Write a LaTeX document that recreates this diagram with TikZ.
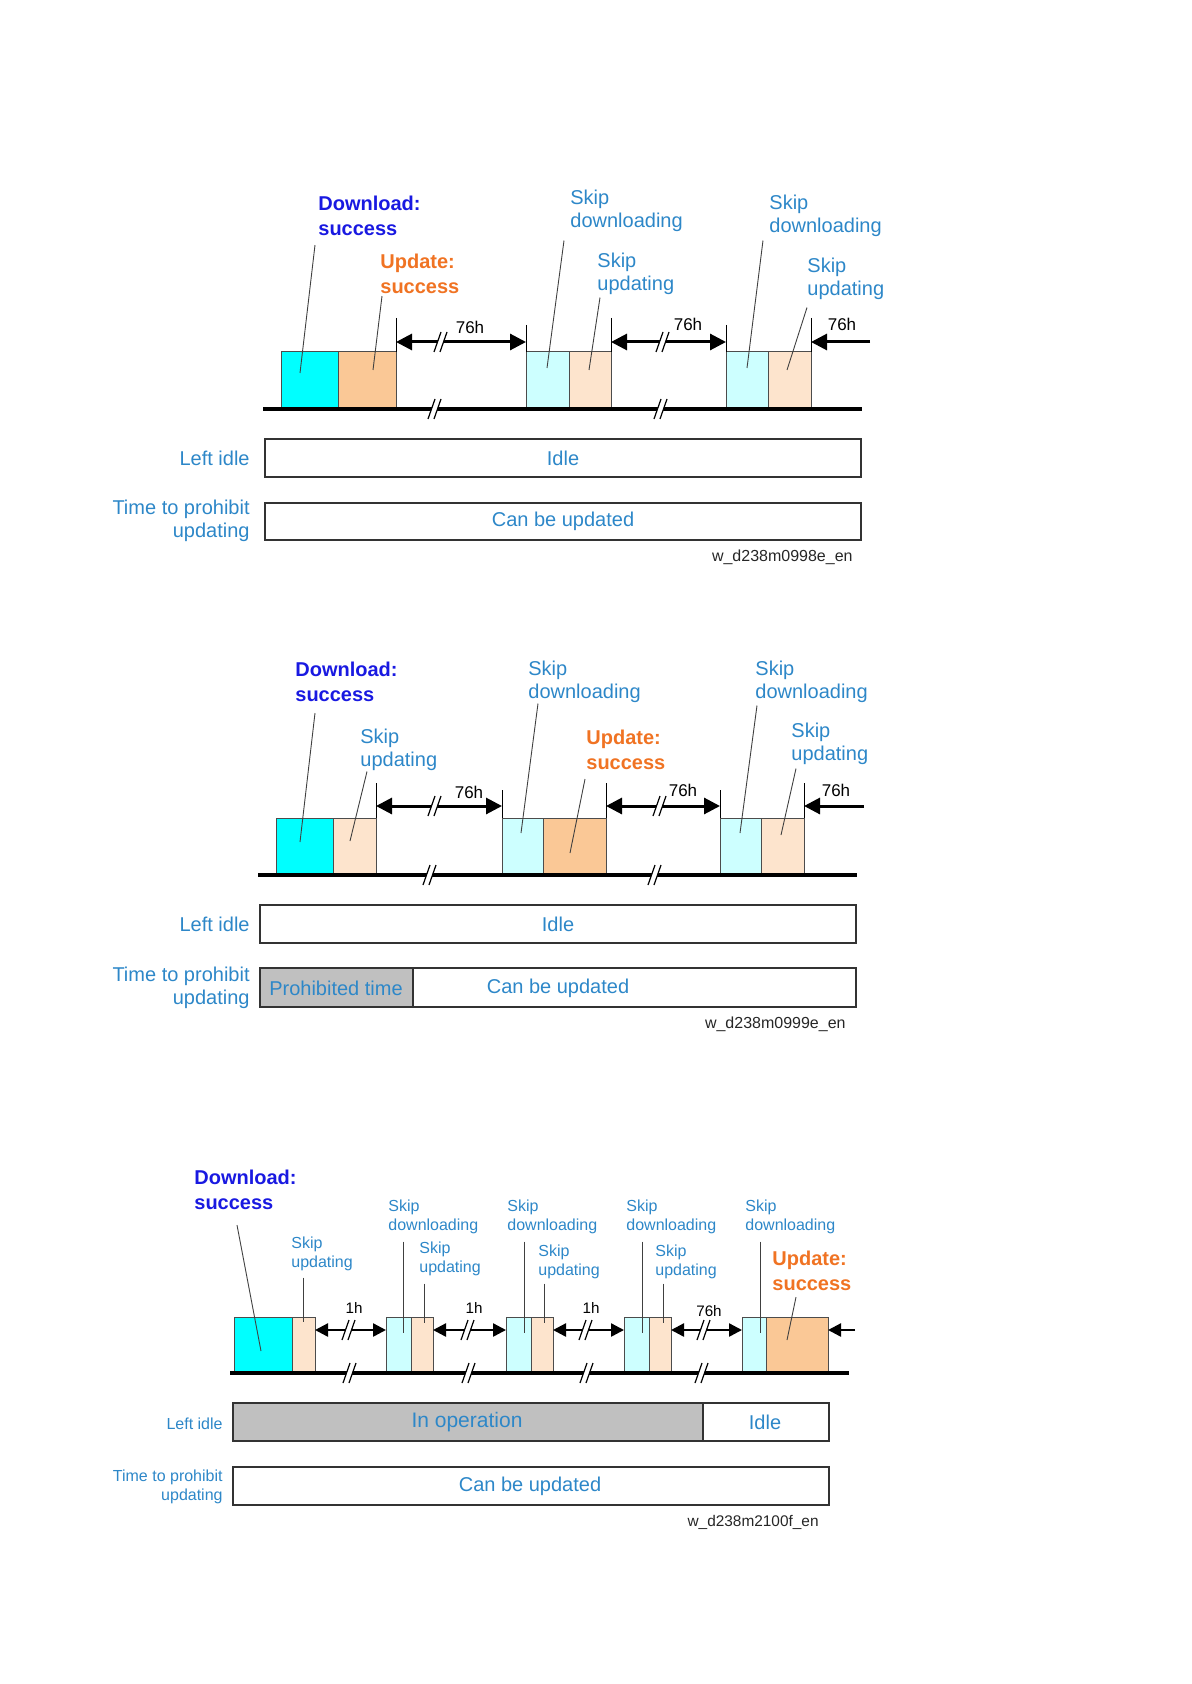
\documentclass[tikz,border=0pt]{standalone}
\usepackage{fontspec}
\setmainfont{Liberation Sans}
\usetikzlibrary{arrows.meta,calc}

\definecolor{dlblue}{RGB}{25,25,225}
\definecolor{updorange}{RGB}{240,115,35}
\definecolor{skipblue}{RGB}{45,135,200}
\definecolor{dlcyan}{RGB}{0,255,255}
\definecolor{updpeach}{RGB}{250,200,150}
\definecolor{skipcyan}{RGB}{205,255,255}
\definecolor{skippeach}{RGB}{253,228,205}
\definecolor{busygray}{RGB}{192,192,192}

\begin{document}
\begin{tikzpicture}[x=0.5pt,y=-0.5pt,
  txt/.style={text=skipblue,inner sep=0pt,align=left,anchor=west,font=\fontsize{10}{11.8}\selectfont},
  txtsm/.style={txt,font=\fontsize{8}{9.7}\selectfont},
  dlok/.style={txt,text=dlblue,font=\fontsize{10}{12.3}\selectfont\bfseries},
  upok/.style={dlok,text=updorange},
  rowlbl/.style={txt,align=right,anchor=east},
  rowlblsm/.style={rowlbl,font=\fontsize{8}{9.7}\selectfont},
  hrs/.style={inner sep=0pt,font=\fontsize{8.5}{10}\selectfont},
  hrssm/.style={hrs,font=\fontsize{7.6}{9}\selectfont},
  figid/.style={inner sep=0pt,anchor=east,text=black!85,font=\fontsize{8}{9.6}\selectfont},
  inbar/.style={inner sep=0pt,text=skipblue,font=\fontsize{10}{12}\selectfont},
  cell/.style={draw=black!70,line width=0.5pt},
  statebar/.style={draw=black!80,line width=0.7pt},
  timeline/.style={line width=2.2pt},
  endtick/.style={line width=0.5pt},
  leader/.style={draw=black!75,line width=0.45pt},
  waitspan/.style={line width=1.5pt,{Triangle[length=8pt,width=8pt]}-{Triangle[length=8pt,width=8pt]}},
  waitin/.style={line width=1.5pt,-{Triangle[length=8pt,width=8pt]}},
  waitspansm/.style={line width=1.2pt,{Triangle[length=6.5pt,width=6.5pt]}-{Triangle[length=6.5pt,width=6.5pt]}},
  waitinsm/.style={line width=1.2pt,-{Triangle[length=6.5pt,width=6.5pt]}},
  brk/.pic={
    \fill[white] (-7,10) -- (0,-10) -- (6,-10) -- (-1,10) -- cycle;
    \draw[line width=0.6pt] (-7,10) -- (0,-10) (-1,10) -- (6,-10);
  }
]
\useasboundingbox (0,0) rectangle (1191,1684);

% ---------- chart 1 ----------
\draw[cell,fill=dlcyan] (281,352) rectangle (338,409);
\draw[cell,fill=updpeach] (338,352) rectangle (396,409);
\draw[cell,fill=skipcyan] (526,352) rectangle (569,409);
\draw[cell,fill=skippeach] (569,352) rectangle (611,409);
\draw[cell,fill=skipcyan] (726,352) rectangle (768,409);
\draw[cell,fill=skippeach] (768,352) rectangle (811,409);
\draw[timeline] (263,409) -- (862,409);
\foreach \x in {396,611,811} \draw[endtick] (\x,318) -- (\x,352);
\foreach \x in {526,726} \draw[endtick] (\x,325) -- (\x,352);
\coordinate (pA1) at (396,342);
\coordinate (pA2) at (526,342);
\coordinate (pA3) at (611,342);
\coordinate (pA4) at (726,342);
\coordinate (pA5) at (811,342);
\coordinate (pA6) at (870,342);
\draw[waitspan] (pA1) -- (pA2);
\draw[waitspan] (pA3) -- (pA4);
\draw[waitin] (pA6) -- (pA5);
\foreach \x/\y in {441/342,663/342,435/409,661/409} \pic at (\x,\y) {brk};
\node[hrs] (hA1) at (470,327) {76h};
\node[hrs] (hA2) at (688,324) {76h};
\node[hrs] (hA3) at (842,324) {76h};

\node[dlok] (dlA) at (318,216) {Download:\\success};
\node[upok] (upA) at (380,274) {Update:\\success};
\node[txt] (sdA1) at (570,211) {Skip\\downloading};
\node[txt] (suA1) at (597,274) {Skip\\updating};
\node[txt] (sdA2) at (769,216) {Skip\\downloading};
\node[txt] (suA2) at (807,279) {Skip\\updating};
\coordinate (dlA-end) at (300,373);
\coordinate (upA-end) at (373,370);
\coordinate (sdA1-end) at (547,368);
\coordinate (suA1-end) at (589,370);
\coordinate (sdA2-end) at (747,368);
\coordinate (suA2-end) at (787,370);
\foreach \n/\dx/\dy in {dlA/-3/9,upA/2/2,sdA1/-6/8,suA1/3/2,sdA2/-6/3,suA2/0/7}
  \draw[leader] ($(\n.south west)+(\dx,\dy)$) -- (\n-end);

\draw[statebar] (265,439) rectangle (861,477);
\node[inbar] (idleA) at (563,458) {Idle};
\node[rowlbl] (liA) at (250,458) {Left idle};
\draw[statebar] (265,503) rectangle (861,540);
\node[inbar] (canA) at (563,521) {Can be updated};
\node[rowlbl] (tpA) at (250,521) {Time to prohibit\\updating};
\node[figid] (idA) at (853,557) {w\_d238m0998e\_en};

% ---------- chart 2 ----------
\draw[cell,fill=dlcyan] (276,818) rectangle (333,875);
\draw[cell,fill=skippeach] (333,818) rectangle (376,875);
\draw[cell,fill=skipcyan] (502,818) rectangle (543,875);
\draw[cell,fill=updpeach] (543,818) rectangle (606,875);
\draw[cell,fill=skipcyan] (720,818) rectangle (761,875);
\draw[cell,fill=skippeach] (761,818) rectangle (804,875);
\draw[timeline] (258,875) -- (857,875);
\foreach \x in {376,606,804} \draw[endtick] (\x,783) -- (\x,818);
\foreach \x in {502,720} \draw[endtick] (\x,790) -- (\x,818);
\coordinate (pB1) at (376,806);
\coordinate (pB2) at (502,806);
\coordinate (pB3) at (606,806);
\coordinate (pB4) at (720,806);
\coordinate (pB5) at (804,806);
\coordinate (pB6) at (864,806);
\draw[waitspan] (pB1) -- (pB2);
\draw[waitspan] (pB3) -- (pB4);
\draw[waitin] (pB6) -- (pB5);
\foreach \x/\y in {435/806,660/806,430/875,655/875} \pic at (\x,\y) {brk};
\node[hrs] (hB1) at (469,792) {76h};
\node[hrs] (hB2) at (683,790) {76h};
\node[hrs] (hB3) at (836,790) {76h};

\node[dlok] (dlB) at (295,682) {Download:\\success};
\node[txt] (suB1) at (360,750) {Skip\\updating};
\node[txt] (sdB1) at (528,682) {Skip\\downloading};
\node[upok] (upB) at (586,750) {Update:\\success};
\node[txt] (sdB2) at (755,682) {Skip\\downloading};
\node[txt] (suB2) at (791,744) {Skip\\updating};
\coordinate (dlB-end) at (300,842);
\coordinate (suB1-end) at (350,841);
\coordinate (sdB1-end) at (521,833);
\coordinate (upB-end) at (570,853);
\coordinate (sdB2-end) at (740,833);
\coordinate (suB2-end) at (781,835);
\foreach \n/\dx/\dy in {dlB/20/11,suB1/7/0,sdB1/10/0,upB/-1/9,sdB2/2/2,suB2/5/3}
  \draw[leader] ($(\n.south west)+(\dx,\dy)$) -- (\n-end);

\draw[statebar] (260,905) rectangle (856,943);
\node[inbar] (idleB) at (558,924) {Idle};
\node[rowlbl] (liB) at (250,924) {Left idle};
\draw[statebar,fill=busygray] (260,968) rectangle (413,1007);
\draw[statebar] (413,968) rectangle (856,1007);
\node[inbar] (prohB) at (336,988) {Prohibited time};
\node[inbar] (canB) at (558,988) {Can be updated};
\node[rowlbl] (tpB) at (250,988) {Time to prohibit\\updating};
\node[figid] (idB) at (846,1024) {w\_d238m0999e\_en};

% ---------- chart 3 ----------
\draw[cell,fill=dlcyan] (234,1317) rectangle (292,1373);
\draw[cell,fill=skippeach] (292,1317) rectangle (315,1373);
\foreach \x in {386,506,624} {
  \draw[cell,fill=skipcyan] (\x,1317) rectangle (\x+25,1373);
  \draw[cell,fill=skippeach] (\x+25,1317) rectangle (\x+47,1373);
}
\draw[cell,fill=skipcyan] (742,1317) rectangle (766,1373);
\draw[cell,fill=updpeach] (766,1317) rectangle (828,1373);
\draw[timeline] (230,1373) -- (849,1373);
\coordinate (pC1) at (315,1330);
\coordinate (pC2) at (386,1330);
\coordinate (pC3) at (433,1330);
\coordinate (pC4) at (506,1330);
\coordinate (pC5) at (553,1330);
\coordinate (pC6) at (624,1330);
\coordinate (pC7) at (671,1330);
\coordinate (pC8) at (742,1330);
\coordinate (pC9) at (828,1330);
\coordinate (pC10) at (855,1330);
\draw[waitspansm] (pC1) -- (pC2);
\draw[waitspansm] (pC3) -- (pC4);
\draw[waitspansm] (pC5) -- (pC6);
\draw[waitspansm] (pC7) -- (pC8);
\draw[waitinsm] (pC10) -- (pC9);
\foreach \x/\y in {349/1330,468/1330,586/1330,704/1330,350/1373,469/1373,587/1373,702/1373} \pic at (\x,\y) {brk};
\node[hrssm] (hC1) at (354,1308) {1h};
\node[hrssm] (hC2) at (474,1308) {1h};
\node[hrssm] (hC3) at (591,1308) {1h};
\node[hrssm] (hC4) at (709,1311) {76h};

\node[dlok] (dlC) at (194,1190) {Download:\\success};
\node[txtsm] (suC1) at (291,1254) {Skip\\updating};
\node[txtsm] (sdC2) at (388,1217) {Skip\\downloading};
\node[txtsm] (suC2) at (419,1259) {Skip\\updating};
\node[txtsm] (sdC3) at (507,1217) {Skip\\downloading};
\node[txtsm] (suC3) at (538,1262) {Skip\\updating};
\node[txtsm] (sdC4) at (626,1217) {Skip\\downloading};
\node[txtsm] (suC4) at (655,1262) {Skip\\updating};
\node[txtsm] (sdC5) at (745,1217) {Skip\\downloading};
\node[upok] (upC) at (772,1271) {Update:\\success};
\coordinate (dlC-end) at (261,1351);
\coordinate (suC1-end) at (303,1322);
\coordinate (sdC2-end) at (403,1333);
\coordinate (suC2-end) at (424,1323);
\coordinate (sdC3-end) at (524,1333);
\coordinate (suC3-end) at (544,1323);
\coordinate (sdC4-end) at (642,1333);
\coordinate (suC4-end) at (663,1323);
\coordinate (sdC5-end) at (760,1333);
\coordinate (upC-end) at (787,1340);
\foreach \n/\dx/\dy in {dlC/43/15,suC1/12/6,sdC2/15/7,suC2/5/7,sdC3/17/7,suC3/6/4,sdC4/16/7,suC4/8/4,sdC5/15/7,upC/24/6}
  \draw[leader] ($(\n.south west)+(\dx,\dy)$) -- (\n-end);

\draw[statebar,fill=busygray] (233,1403) rectangle (703,1441);
\draw[statebar] (703,1403) rectangle (829,1441);
\node[inbar,font=\fontsize{10.5}{12}\selectfont] (opC) at (467,1422) {In operation};
\node[inbar] (idleC) at (765,1422) {Idle};
\node[rowlblsm] (liC) at (223,1424) {Left idle};
\draw[statebar] (233,1467) rectangle (829,1505);
\node[inbar] (canC) at (530,1486) {Can be updated};
\node[rowlblsm] (tpC) at (223,1487) {Time to prohibit\\updating};
\node[figid,font=\fontsize{7.7}{9}\selectfont] (idC) at (819,1522) {w\_d238m2100f\_en};
\end{tikzpicture}
\end{document}
